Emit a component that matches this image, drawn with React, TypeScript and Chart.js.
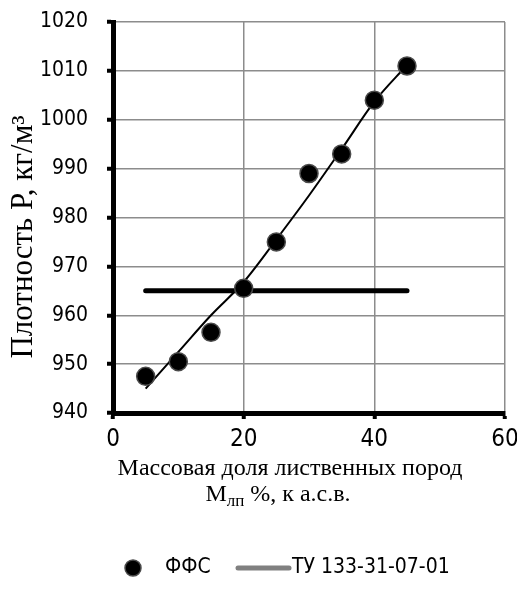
import React, { useEffect, useRef } from "react";
import { Chart, registerables } from "chart.js";

Chart.register(...registerables);

// ---- data ----
const xValues = [5, 10, 15, 20, 25, 30, 35, 40, 45];
const ffsValues = [947.5, 950.5, 956.5, 965.5, 975, 989, 993, 1004, 1011];
const trendX = [5, 10, 15, 20, 25, 30, 35, 40, 45];
const trendValues = [945, 952.5, 960, 966.8, 975.5, 984.5, 994, 1003.7, 1011.2];
const tuX = [5, 45];
const tuValues = [965, 965];
const seriesLabels = ["ФФС", "ТУ 133-31-07-01"];
const yTitle = "Плотность P, кг/м³";
const xTitleLine1 = "Массовая доля лиственных пород";
const xTitleMain = "М";
const xTitleSub = "лп";
const xTitleRest = " %, к а.с.в.";
const xMin = 0, xMax = 60, xStep = 20;
const yMin = 940, yMax = 1020, yStep = 10;

const NARROW = '"DejaVu Sans", sans-serif';
const SERIF = '"Liberation Serif", "DejaVu Serif", serif';

const decorPlugin = {
  id: "decor",
  afterDraw(chart: any) {
    const ctx = chart.ctx;
    ctx.save();
    ctx.fillStyle = "#000";
    // y-axis title
    ctx.save();
    ctx.translate(32, 237);
    ctx.rotate(-Math.PI / 2);
    ctx.font = `31px ${SERIF}`;
    ctx.textAlign = "center";
    ctx.textBaseline = "alphabetic";
    ctx.fillText(yTitle, 0, 0);
    ctx.restore();

    // x-axis title
    const cx = 290;
    ctx.font = `24px ${SERIF}`;
    ctx.textAlign = "center";
    ctx.textBaseline = "alphabetic";
    ctx.fillText(xTitleLine1, cx, 475);
    const mainFont = `24px ${SERIF}`;
    const subFont = `17px ${SERIF}`;
    ctx.font = mainFont;
    const wMain = ctx.measureText(xTitleMain).width;
    const wRest = ctx.measureText(xTitleRest).width;
    ctx.font = subFont;
    const wSub = ctx.measureText(xTitleSub).width;
    const total = wMain + wSub + wRest;
    let x = 278 - total / 2;
    ctx.textAlign = "left";
    ctx.font = mainFont;
    ctx.fillText(xTitleMain, x, 501);
    x += wMain;
    ctx.font = subFont;
    ctx.fillText(xTitleSub, x, 506);
    x += wSub;
    ctx.font = mainFont;
    ctx.fillText(xTitleRest, x, 501);

    // legend
    const ly = 568;
    const ds0 = chart.data.datasets[0];
    ctx.beginPath();
    ctx.arc(133, ly, 8, 0, Math.PI * 2);
    ctx.fillStyle = ds0.backgroundColor;
    ctx.fill();
    ctx.lineWidth = 1.5;
    ctx.strokeStyle = ds0.borderColor;
    ctx.stroke();
    ctx.fillStyle = "#000";
    ctx.font = `condensed 21px ${NARROW}`;
    ctx.textBaseline = "middle";
    ctx.textAlign = "left";
    ctx.fillText(ds0.label, 165, ly);
    const ds2 = chart.data.datasets[2];
    ctx.beginPath();
    ctx.moveTo(238, ly);
    ctx.lineTo(289, ly);
    ctx.strokeStyle = "#808080";
    ctx.lineWidth = 5;
    ctx.lineCap = "round";
    ctx.stroke();
    ctx.fillText(ds2.label, 292, ly);
    ctx.restore();
  },
};

export default function App() {
  const ref = useRef<HTMLCanvasElement | null>(null);
  useEffect(() => {
    document.body.style.margin = "0";
    const canvas = ref.current!;
    const chart = new Chart(canvas, {
      type: "scatter",
      data: {
        datasets: [
          {
            label: seriesLabels[0],
            data: xValues.map((x, i) => ({ x, y: ffsValues[i] })),
            backgroundColor: "#000",
            borderColor: "#4a4a4a",
            borderWidth: 1.5,
            pointRadius: 9,
            showLine: false,
          },
          {
            label: "trend",
            data: trendX.map((x, i) => ({ x, y: trendValues[i] })),
            showLine: true,
            borderColor: "#000",
            borderWidth: 2,
            pointRadius: 0,
            cubicInterpolationMode: "monotone",
          },
          {
            label: seriesLabels[1],
            data: tuX.map((x, i) => ({ x, y: tuValues[i] })),
            showLine: true,
            borderColor: "#000",
            borderWidth: 5,
            borderCapStyle: "round",
            pointRadius: 0,
          },
        ],
      },
      options: {
        animation: false,
        responsive: false,
        maintainAspectRatio: false,
        layout: { padding: { left: 0, right: 12, top: 22, bottom: 96 } },
        plugins: { legend: { display: false }, tooltip: { enabled: false } },
        scales: {
          x: {
            type: "linear",
            min: xMin,
            max: xMax,
            afterFit: (s: any) => {
              s.height = 100;
              s.paddingLeft = 0;
              s.paddingRight = 0;
            },
            ticks: {
              stepSize: xStep,
              color: "#000",
              font: { family: NARROW, size: 24, weight: "condensed" },
              padding: 6,
              callback: (v: any) => String(v),
            },
            grid: {
              color: "#8c8c8c",
              lineWidth: 1.5,
              tickColor: "#000",
              tickWidth: 4,
              tickLength: 6,
            },
            border: { color: "#000", width: 5 },
          },
          y: {
            type: "linear",
            min: yMin,
            max: yMax,
            afterFit: (s: any) => {
              s.width = 113;
              s.paddingTop = 0;
              s.paddingBottom = 0;
            },
            ticks: {
              stepSize: yStep,
              color: "#000",
              font: { family: NARROW, size: 21, weight: "condensed" },
              padding: 19,
              callback: (v: any) => String(v),
            },
            grid: {
              color: "#8c8c8c",
              lineWidth: 1.5,
              tickColor: "#000",
              tickWidth: 4,
              tickLength: 6,
            },
            border: { color: "#000", width: 5 },
          },
        },
      },
      plugins: [decorPlugin],
    } as any);
    return () => chart.destroy();
  }, []);
  return <canvas ref={ref} width={517} height={609} style={{ display: "block" }} />;
}
